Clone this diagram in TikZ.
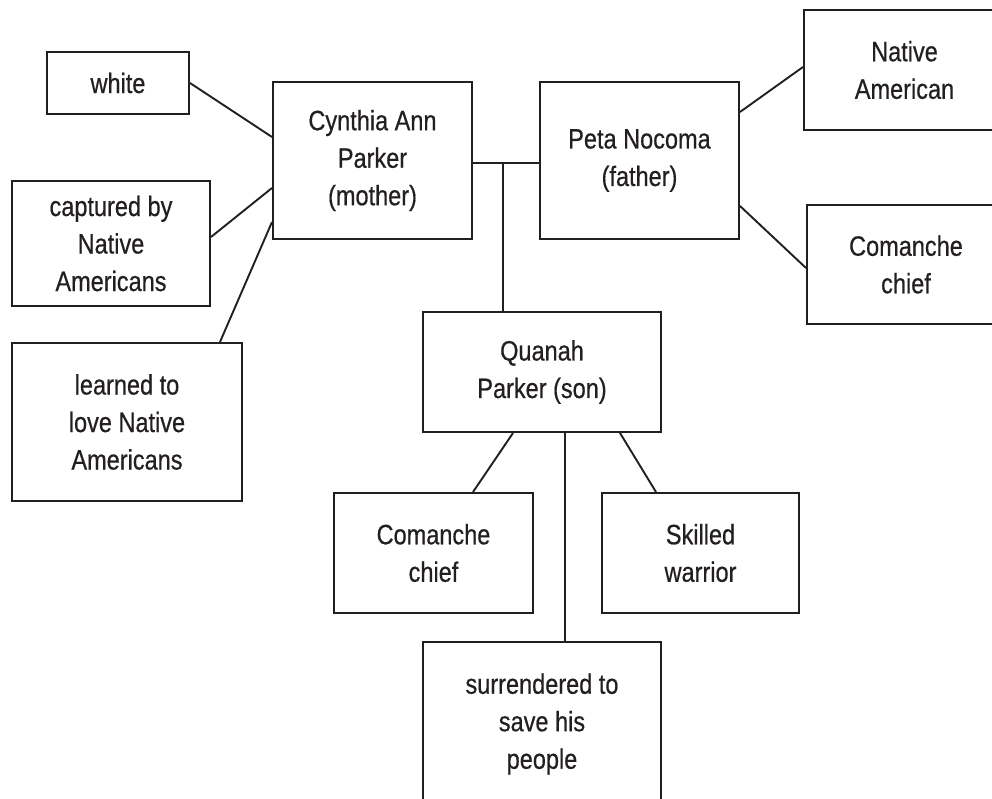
\documentclass[tikz,border=0pt]{standalone}
\usepackage{fontspec}
\setmainfont{Liberation Sans}[FakeStretch=0.84,FakeBold=0.5]
\definecolor{ink}{HTML}{231F20}
\begin{document}
\begin{tikzpicture}[x=1pt,y=-1pt,
  box/.style={draw=ink, line width=2pt, rectangle, inner sep=0pt, align=center,
    text=ink, font=\fontsize{28}{37.5}\selectfont},
  link/.style={draw=ink, line width=1.9pt}]
\useasboundingbox (0,0) rectangle (992,799);
\clip (0,0) rectangle (992,799);
\fill[white] (0,0) rectangle (992,799);
% boxes
\node[box, minimum width=142pt, minimum height=62pt] (white) at (118,83) {white};
\node[box, minimum width=199pt, minimum height=157pt] (cynthia) at (372.5,160.5) {Cynthia Ann\\Parker\\(mother)};
\node[box, minimum width=199pt, minimum height=157pt] (peta) at (639.5,160.5) {Peta Nocoma\\(father)};
\node[box, minimum width=201pt, minimum height=120pt] (native) at (904.5,70) {Native\\American};
\node[box, minimum width=198pt, minimum height=119pt] (comR) at (906,264.5) {Comanche\\chief};
\node[box, minimum width=198pt, minimum height=125pt] (captured) at (111,243.5) {captured by\\Native\\Americans};
\node[box, minimum width=230pt, minimum height=158pt] (learned) at (127,422) {learned to\\love Native\\Americans};
\node[box, minimum width=238pt, minimum height=120pt] (quanah) at (542,372) {Quanah\\Parker (son)};
\node[box, minimum width=199pt, minimum height=120pt] (comB) at (433.5,553) {Comanche\\chief};
\node[box, minimum width=197pt, minimum height=120pt] (skilled) at (700.5,553) {Skilled\\warrior};
\node[box, minimum width=238pt, minimum height=164pt] (surr) at (542,724) {surrendered to\\save his\\people};
% connectors
\draw[link] (white.east) -- ([yshift=23.5pt]cynthia.west);
\draw[link] ([yshift=6.5pt]captured.east) -- ([yshift=-27.5pt]cynthia.west);
\draw[link] ([xshift=93pt]learned.north) -- ([yshift=-61.5pt]cynthia.west);
\draw[link] ([yshift=-2.5pt]cynthia.east) -- ([yshift=-2.5pt]peta.west);
\coordinate (junction) at (503,163);
\draw[link] (junction) -- (junction |- quanah.north);
\draw[link] ([yshift=48.5pt]peta.east) -- ([yshift=3pt]native.west);
\draw[link] ([yshift=-45.5pt]peta.east) -- ([yshift=-3.5pt]comR.west);
\draw[link] ([xshift=-29pt]quanah.south) -- ([xshift=39.5pt]comB.north);
\draw[link] ([xshift=23pt]quanah.south) -- ([xshift=23pt]surr.north);
\draw[link] ([xshift=78pt]quanah.south) -- ([xshift=-44.5pt]skilled.north);
\end{tikzpicture}
\end{document}
